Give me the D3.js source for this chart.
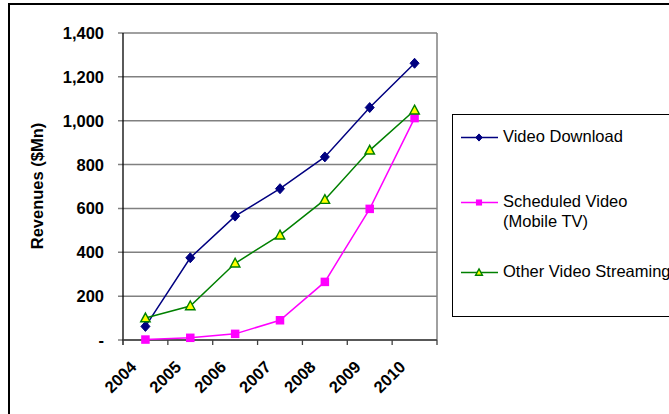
<!DOCTYPE html>
<html>
<head>
<meta charset="utf-8">
<script src="https://cdn.jsdelivr.net/npm/d3@7"></script>
<style>
  body { margin: 0; background: #fff; }
  svg { display: block; font-family: "Liberation Sans", Arial, sans-serif; }
</style>
</head>
<body>
<svg id="chart" width="669" height="414"></svg>
<script>
"use strict";

// data
var years = ["2004", "2005", "2006", "2007", "2008", "2009", "2010"];
var videoDownload = [62, 375, 565, 690, 835, 1060, 1262];
var scheduledVideo = [2, 10, 28, 90, 265, 598, 1012];
var otherStreaming = [100, 155, 350, 478, 640, 865, 1048];
var yTicks = [0, 200, 400, 600, 800, 1000, 1200, 1400];

var series = [
  { name: ["Video Download"], values: videoDownload, color: "#000080", marker: "diamond" },
  { name: ["Scheduled Video", "(Mobile TV)"], values: scheduledVideo, color: "#ff00ff", marker: "square" },
  { name: ["Other Video Streaming"], values: otherStreaming, color: "#008000", marker: "triangle" }
];

var svg = d3.select("#chart");
var plotLeft = 123, plotRight = 437, plotTop = 33, plotBottom = 340;

var x = d3.scaleBand().domain(years).range([plotLeft, plotRight]).padding(0);
var y = d3.scaleLinear().domain([0, 1400]).range([plotBottom, plotTop]);

// outer frame
svg.append("rect")
  .attr("x", 9).attr("y", 4).attr("width", 700).attr("height", 450)
  .attr("fill", "none").attr("stroke", "#000").attr("stroke-width", 2);

// grid lines
svg.append("g").selectAll("line")
  .data(yTicks)
  .enter().append("line")
  .attr("x1", plotLeft - 5).attr("x2", plotRight)
  .attr("y1", d => y(d)).attr("y2", d => y(d))
  .attr("stroke", "#808080").attr("stroke-width", 1.5);

// right border of plot
svg.append("line")
  .attr("x1", plotRight).attr("x2", plotRight).attr("y1", plotTop).attr("y2", plotBottom)
  .attr("stroke", "#808080").attr("stroke-width", 1.5);

// y axis
svg.append("line")
  .attr("x1", plotLeft).attr("x2", plotLeft).attr("y1", plotTop).attr("y2", plotBottom + 5)
  .attr("stroke", "#000").attr("stroke-width", 1.3);

svg.append("g").selectAll("text")
  .data(yTicks)
  .enter().append("text")
  .attr("x", 104).attr("y", d => y(d) + 6)
  .attr("text-anchor", "end")
  .attr("font-size", 16.5).attr("font-weight", "bold")
  .text(d => d === 0 ? "-" : d3.format(",")(d));

svg.append("text")
  .attr("transform", "translate(43,186) rotate(-90)")
  .attr("text-anchor", "middle")
  .attr("font-size", 16.5).attr("font-weight", "bold")
  .text("Revenues ($Mn)");

// x axis
svg.append("line")
  .attr("x1", plotLeft).attr("x2", plotRight).attr("y1", plotBottom).attr("y2", plotBottom)
  .attr("stroke", "#404040").attr("stroke-width", 1.5);

var bounds = years.map(d => x(d)).concat([plotRight]);
svg.append("g").selectAll("line")
  .data(bounds.slice(1))
  .enter().append("line")
  .attr("x1", d => d).attr("x2", d => d)
  .attr("y1", plotBottom).attr("y2", plotBottom + 5)
  .attr("stroke", "#404040").attr("stroke-width", 1.3);

svg.append("g").selectAll("text")
  .data(years)
  .enter().append("text")
  .attr("transform", d => "translate(" + (x(d) + x.bandwidth() / 2 - 8) + "," + 368 + ") rotate(-45)")
  .attr("text-anchor", "end")
  .attr("font-size", 16.5).attr("font-weight", "bold")
  .text(d => d);

// markers
function drawMarker(g, type, color, s) {
  if (type === "diamond") {
    g.append("path")
      .attr("d", "M0," + (-s) + "L" + (s * 0.9) + ",0L0," + s + "L" + (-s * 0.9) + ",0Z")
      .attr("fill", color).attr("stroke", color).attr("stroke-width", 1);
  } else if (type === "square") {
    g.append("rect")
      .attr("x", -s * 0.85).attr("y", -s * 0.85)
      .attr("width", s * 1.7).attr("height", s * 1.7)
      .attr("fill", color);
  } else {
    g.append("path")
      .attr("d", "M0," + (-s) + "L" + (s * 0.95) + "," + (s * 0.75) + "L" + (-s * 0.95) + "," + (s * 0.75) + "Z")
      .attr("fill", "#ffff00").attr("stroke", color).attr("stroke-width", 1.4);
  }
}

var line = d3.line()
  .x((d, i) => x(years[i]) + x.bandwidth() / 2)
  .y(d => y(d));

series.forEach(function (s) {
  svg.append("path")
    .attr("d", line(s.values))
    .attr("fill", "none").attr("stroke", s.color).attr("stroke-width", 1.5);
});

series.forEach(function (s) {
  svg.append("g").selectAll("g")
    .data(s.values)
    .enter().append("g")
    .attr("transform", (d, i) => "translate(" + (x(years[i]) + x.bandwidth() / 2) + "," + y(d) + ")")
    .each(function () { drawMarker(d3.select(this), s.marker, s.color, 5); });
});

// legend
svg.append("rect")
  .attr("x", 452.5).attr("y", 114.5).attr("width", 300).attr("height", 202)
  .attr("fill", "#fff").attr("stroke", "#000").attr("stroke-width", 1);

var legendY = [137.5, 202.5, 272.5];
var legend = svg.selectAll(".legend")
  .data(series)
  .enter().append("g")
  .attr("class", "legend")
  .attr("transform", (d, i) => "translate(0," + legendY[i] + ")");

legend.append("line")
  .attr("x1", 461).attr("x2", 498).attr("y1", 0).attr("y2", 0)
  .attr("stroke", d => d.color).attr("stroke-width", 1.5);

legend.each(function (d) {
  var g = d3.select(this).append("g").attr("transform", "translate(479,0)");
  drawMarker(g, d.marker, d.color, 3.6);
});

legend.each(function (d) {
  var t = d3.select(this).append("text")
    .attr("x", 503).attr("y", 4)
    .attr("font-size", 16.5);
  d.name.forEach(function (n, i) {
    t.append("tspan").attr("x", 503).attr("dy", i === 0 ? 0 : 20).text(n);
  });
});
</script>
</body>
</html>
